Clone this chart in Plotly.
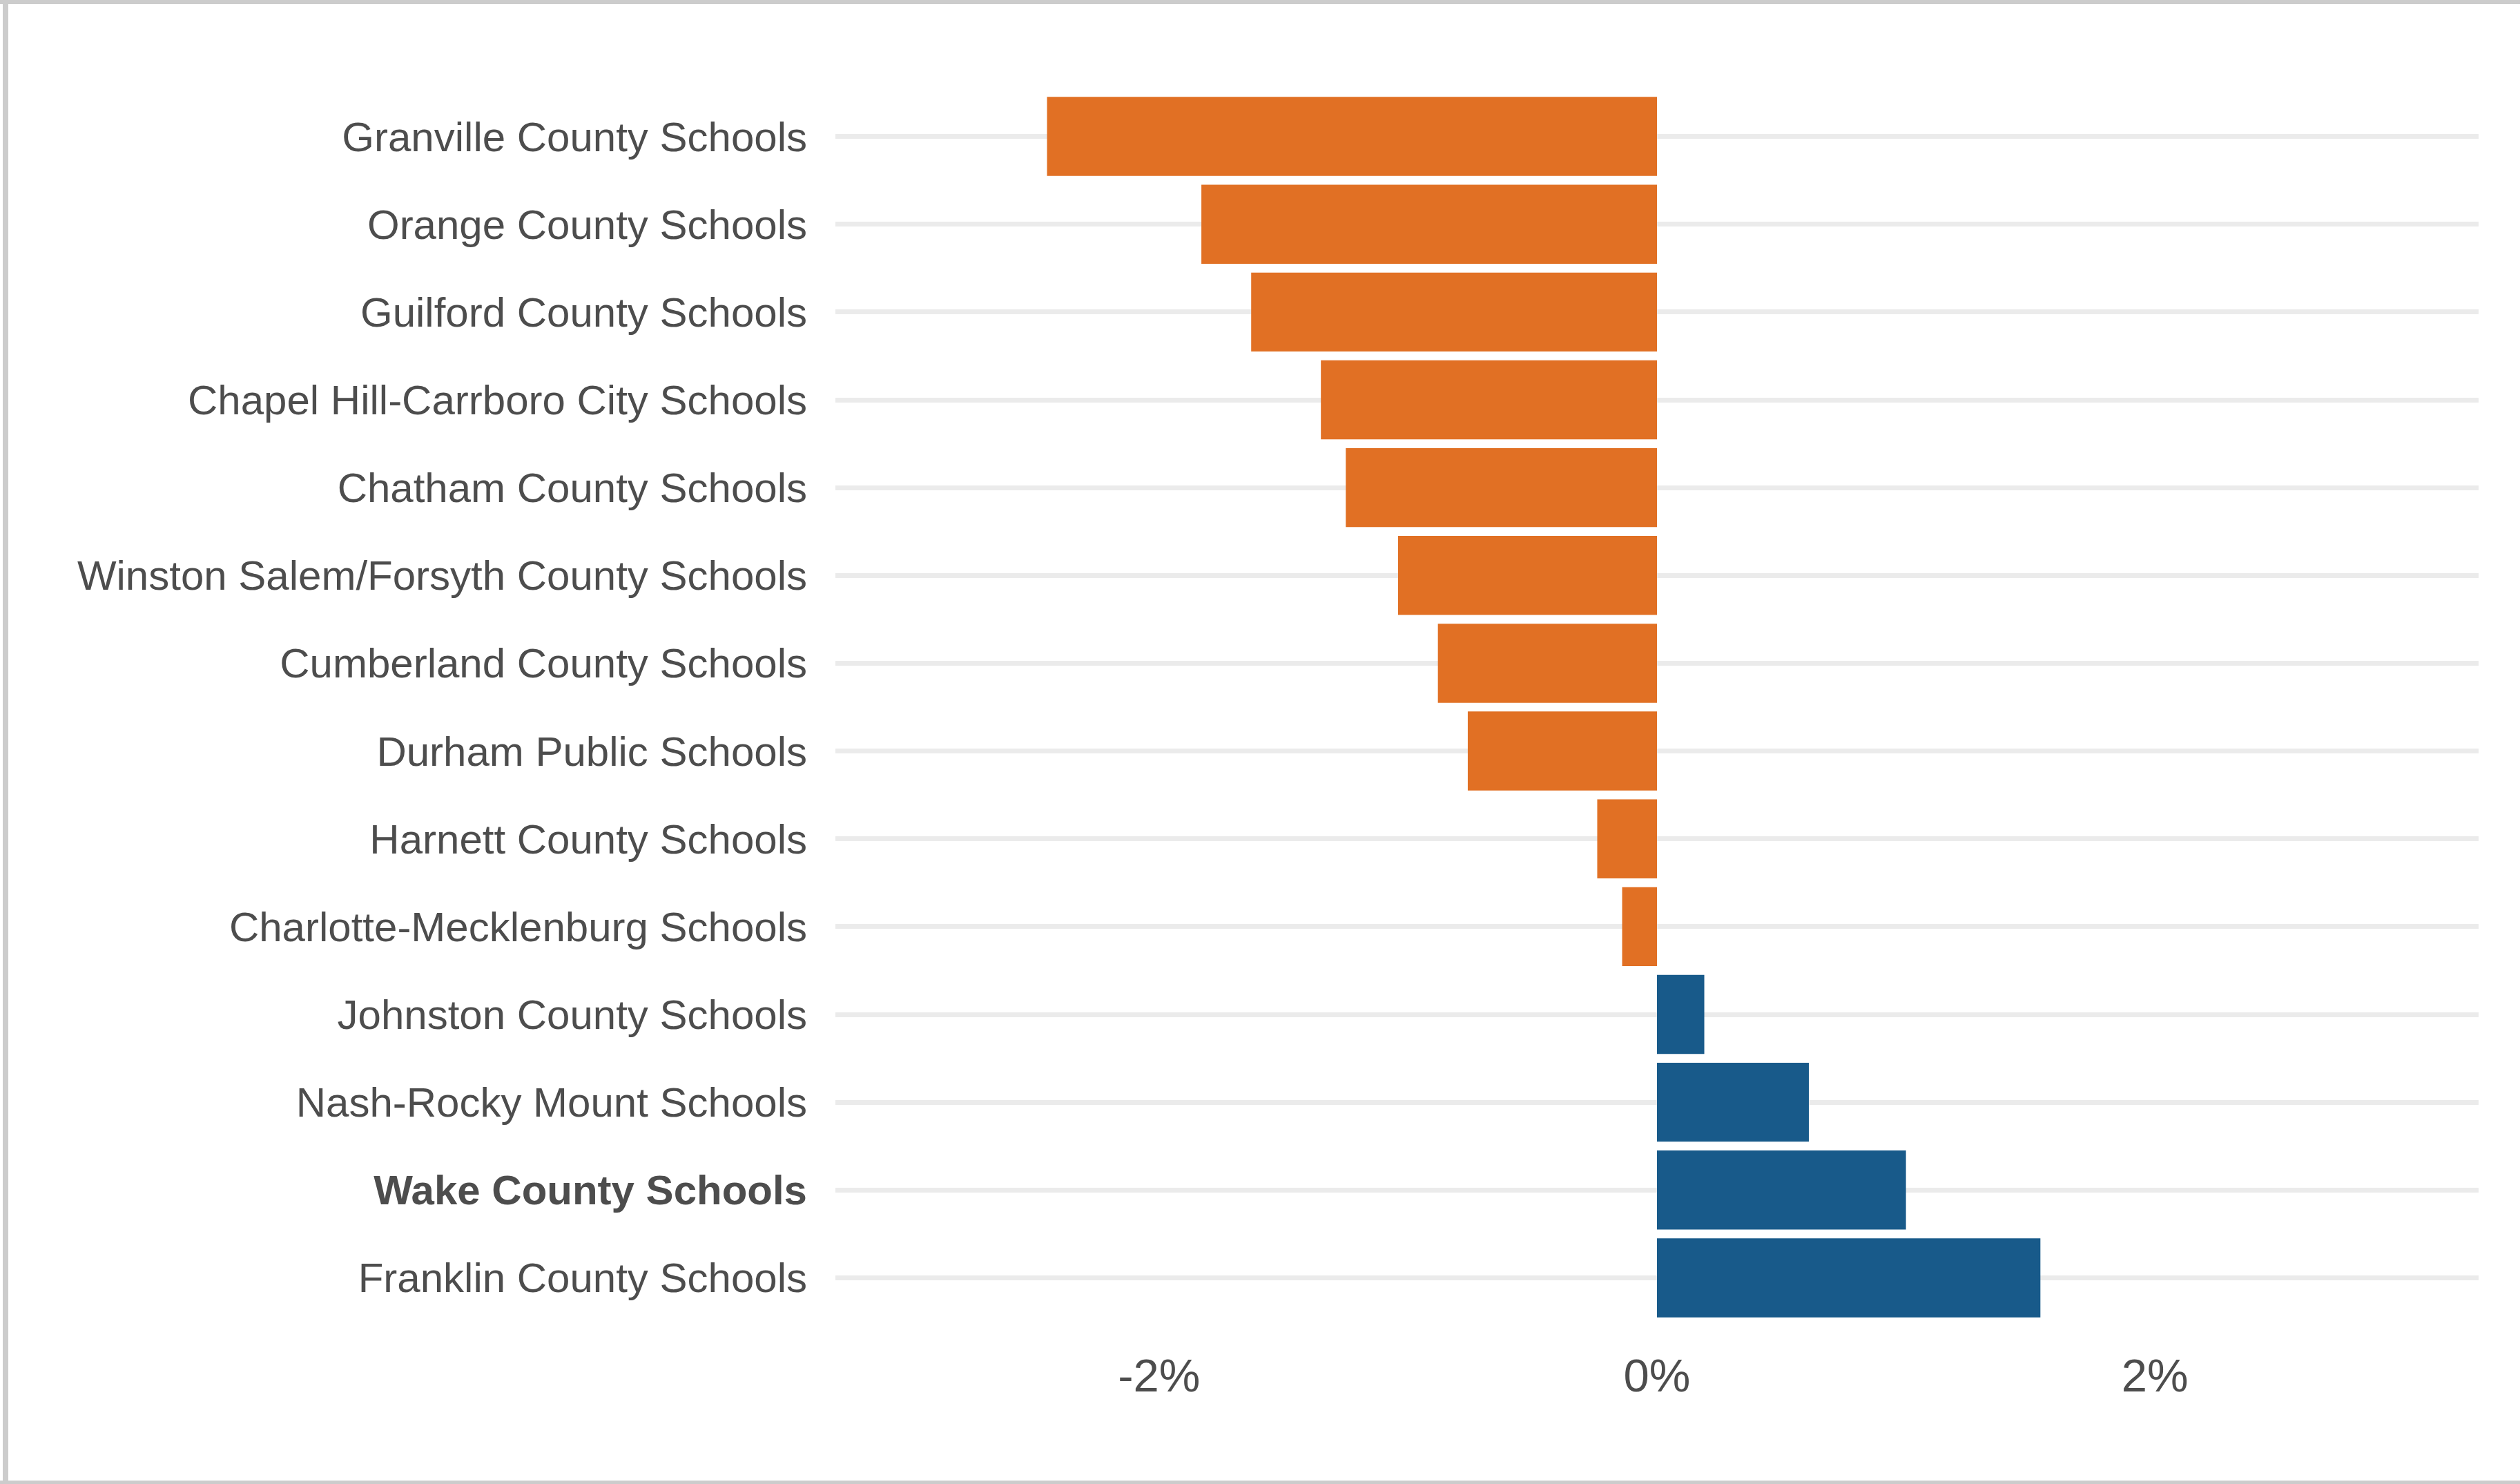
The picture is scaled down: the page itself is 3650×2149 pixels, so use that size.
import plotly.graph_objects as go

# ---- data ----
districts = [
    "Granville County Schools",
    "Orange County Schools",
    "Guilford County Schools",
    "Chapel Hill-Carrboro City Schools",
    "Chatham County Schools",
    "Winston Salem/Forsyth County Schools",
    "Cumberland County Schools",
    "Durham Public Schools",
    "Harnett County Schools",
    "Charlotte-Mecklenburg Schools",
    "Johnston County Schools",
    "Nash-Rocky Mount Schools",
    "Wake County Schools",
    "Franklin County Schools",
]
change_pct = [-2.45, -1.83, -1.63, -1.35, -1.25, -1.04, -0.88, -0.76,
              -0.24, -0.14, 0.19, 0.61, 1.00, 1.54]
highlight = "Wake County Schools"

x_tick_vals = [-2, 0, 2]
x_tick_text = ["-2%", "0%", "2%"]

# ---- styling ----
NEG_COLOR = "#E17024"
POS_COLOR = "#185A8A"
TEXT_COLOR = "#4d4d4d"
GRID_COLOR = "#ebebeb"
BORDER_COLOR = "#cccccc"
FONT = "Liberation Sans, Arial, Helvetica, sans-serif"

W, H = 3650, 2149
ML, MR, MT, MB = 1210, 60, 134, 235

bar_colors = [NEG_COLOR if v < 0 else POS_COLOR for v in change_pct]
y_labels = [f"<b>{d}</b>" if d == highlight else d for d in districts]

fig = go.Figure(
    go.Bar(
        x=change_pct,
        y=districts,
        orientation="h",
        marker=dict(color=bar_colors, line=dict(width=0)),
        hoverinfo="x+y",
    )
)

fig.update_layout(
    width=W,
    height=H,
    margin=dict(l=ML, r=MR, t=MT, b=MB, pad=0),
    paper_bgcolor="white",
    plot_bgcolor="white",
    bargap=0.1,
    showlegend=False,
    font=dict(family=FONT, color=TEXT_COLOR),
)

fig.update_xaxes(
    range=[-3.3, 3.3],
    tickvals=x_tick_vals,
    ticktext=x_tick_text,
    showgrid=False,
    zeroline=False,
    showline=False,
    ticks="outside",
    ticklen=20,
    tickcolor="rgba(0,0,0,0)",
    tickfont=dict(size=67, color=TEXT_COLOR, family=FONT),
)

fig.update_yaxes(
    type="category",
    categoryorder="array",
    categoryarray=districts,
    tickvals=districts,
    ticktext=y_labels,
    range=[len(districts) - 0.5, -0.5],
    showgrid=True,
    gridcolor=GRID_COLOR,
    gridwidth=7,
    zeroline=False,
    showline=False,
    ticks="outside",
    ticklen=28,
    tickcolor="rgba(0,0,0,0)",
    tickfont=dict(size=60, color=TEXT_COLOR, family=FONT),
)

# outer frame (top, left, bottom edges) in paper coordinates
pw = W - ML - MR
ph = H - MT - MB


def px_x(p):
    return (p - ML) / pw


def px_y(p):
    return (H - MB - p) / ph


frame = [
    (0, 0, W, 6),        # top
    (4, 0, 12, H),       # left
    (0, H - 5, W, H),    # bottom
]
for x0, y0, x1, y1 in frame:
    fig.add_shape(
        type="rect", xref="paper", yref="paper",
        x0=px_x(x0), x1=px_x(x1), y0=px_y(y1), y1=px_y(y0),
        fillcolor=BORDER_COLOR, line=dict(width=0), layer="above",
    )

fig.write_html(
    "out.html",
    config={"displayModeBar": False},
    post_script="document.body.style.margin='0px';document.body.style.overflow='hidden';",
)
